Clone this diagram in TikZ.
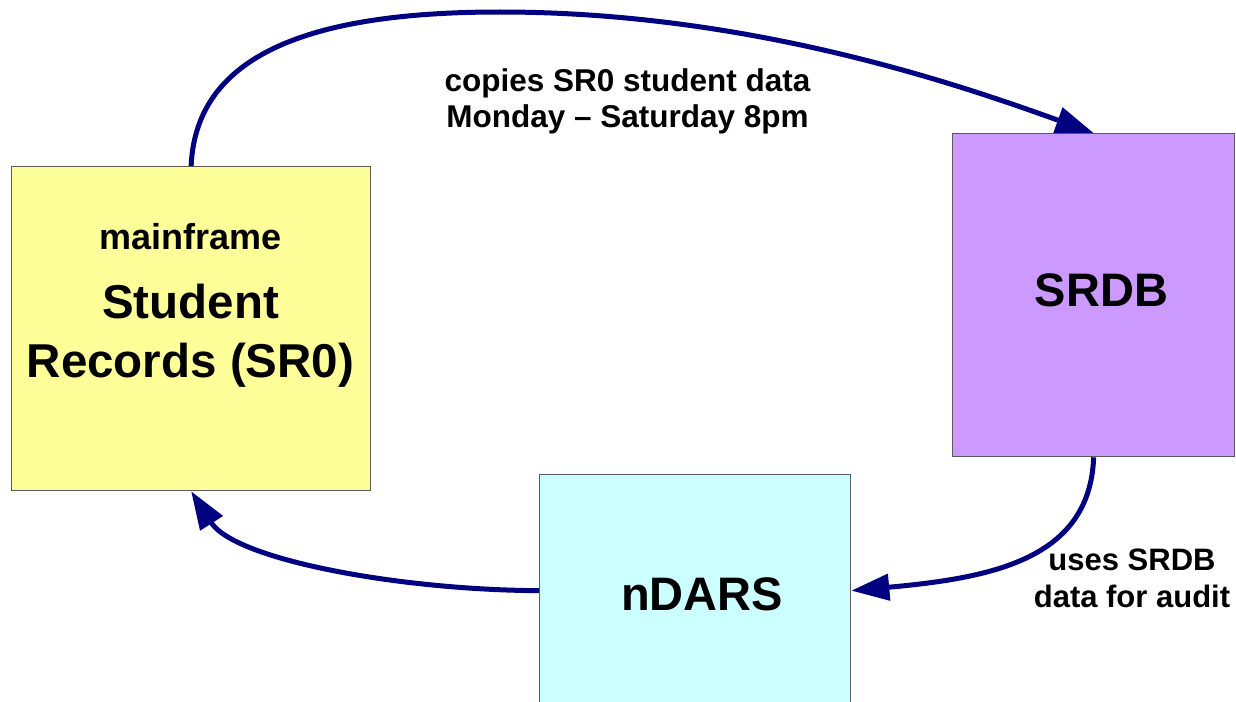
\documentclass[tikz,border=0pt]{standalone}
\usepackage{fontspec}
\setmainfont{Liberation Sans}
\usetikzlibrary{arrows.meta}
\definecolor{boxyellow}{HTML}{FFFF99}
\definecolor{boxpurple}{HTML}{CC99FF}
\definecolor{boxcyan}{HTML}{CCFFFF}
\definecolor{navyarrow}{HTML}{000080}
\definecolor{boxborder}{HTML}{5A5A5A}
\begin{document}
\begin{tikzpicture}[x=1pt,y=-1pt,
  box/.style={draw=boxborder, line width=1.3pt, rectangle, inner sep=0pt, anchor=north west},
  flow/.style={draw=navyarrow, line width=5pt, -{Triangle[length=38pt,width=26pt]}},
  txt/.style={anchor=base, inner sep=0pt, font=\bfseries, align=center}
]
\clip (0,0) rectangle (1236,701);
\fill[white] (0,0) rectangle (1236,701);
\node[box, fill=boxyellow, minimum width=359pt, minimum height=324pt] (sr0) at (11,166) {};
\node[box, fill=boxpurple, minimum width=282pt, minimum height=323pt] (srdb) at (952,133) {};
\node[box, fill=boxcyan, minimum width=311pt, minimum height=232pt] (ndars) at (539,474) {};

\node[txt, font=\bfseries\fontsize{36}{40}\selectfont] (mf) at (190.5,249) {mainframe};
\node[txt, font=\bfseries\fontsize{47.5}{59.7}\selectfont] (srt) at (190.5,377.7) {Student\\Records (SR0)};
\node[txt, font=\bfseries\fontsize{47}{56}\selectfont] (srdbt) at (1101.5,306.7) {SRDB};
\node[txt, font=\bfseries\fontsize{47}{56}\selectfont] (ndarst) at (702,610.7) {nDARS};
\node[txt, font=\bfseries\fontsize{31.5}{36}\selectfont] (copy) at (627.5,127) {copies SR0 student data\\Monday -- Saturday 8pm};
\node[txt, font=\bfseries\fontsize{31}{37.7}\selectfont] (uses) at (1132,607.7) {uses SRDB\\data for audit};

\draw[flow] (sr0.north) .. controls (196,50) and (320,12) .. (500,12) .. controls (750,12) and (960,85) .. (srdb.north);
\draw[flow] (srdb.south) .. controls (1090,560) and (990,578) .. (ndars.east);
\draw[flow] (ndars.west) .. controls (400,590) and (235,560) .. (sr0.south);
\end{tikzpicture}
\end{document}
